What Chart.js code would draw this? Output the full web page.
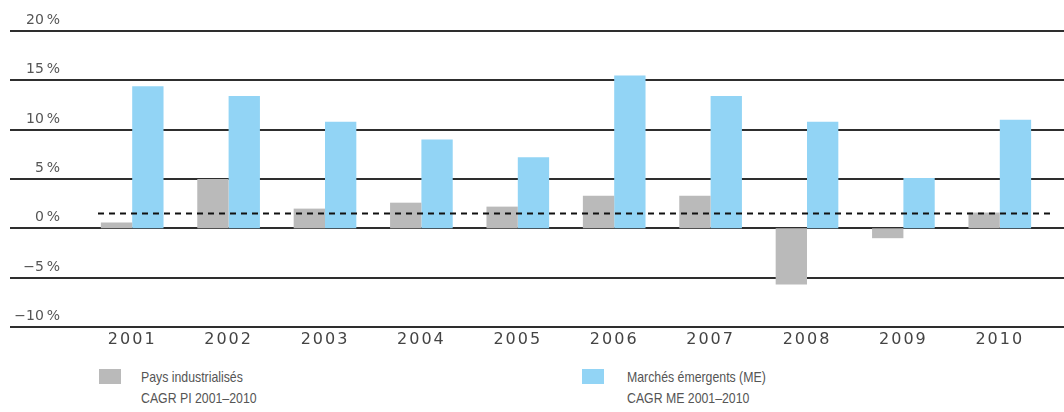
<!DOCTYPE html>
<html>
<head>
<meta charset="utf-8">
<script src="https://cdn.jsdelivr.net/npm/chart.js@4"></script>
<style>
  body { margin: 0; background: #fff; width: 1064px; height: 412px; position: relative; overflow: hidden; }
  #wrap { position: absolute; left: 0; top: 0; width: 1064px; height: 360px; }
  .leg { position: absolute; font-family: "Liberation Sans", Arial, sans-serif; font-size: 15px; color: #555; line-height: 21px;
         transform: scaleX(0.82); transform-origin: left top; white-space: nowrap; }
  .sw { position: absolute; width: 22px; height: 15px; }
</style>
</head>
<body>
<div id="wrap"><canvas id="chart"></canvas></div>

<div class="sw" style="left:99px; top:369px; background:#bababa;"></div>
<div class="leg" style="left:141px; top:366px;">Pays industrialisés<br>CAGR PI 2001–2010</div>
<div class="sw" style="left:582px; top:369px; background:#92d4f5;"></div>
<div class="leg" style="left:627px; top:366px;">Marchés émergents (ME)<br>CAGR ME 2001–2010</div>

<script>
// --- DATA ---
const years = ['2001', '2002', '2003', '2004', '2005', '2006', '2007', '2008', '2009', '2010'];
const industrialized = [0.6, 5.0, 2.0, 2.6, 2.2, 3.3, 3.3, -5.7, -1.0, 1.6];
const emerging = [14.4, 13.4, 10.8, 9.0, 7.2, 15.5, 13.4, 10.8, 5.1, 11.0];
const cagrPI = 1.5;
const yTicks = [20, 15, 10, 5, 0, -5, -10];
const yTickLabels = ['20\u202F%', '15\u202F%', '10\u202F%', '5\u202F%', '0\u202F%', '−5\u202F%', '−10\u202F%'];

const GRAY = '#bababa', BLUE = '#92d4f5';

// spaced-out lettering like the print original
const spacing = {
  id: 'spacing',
  beforeDraw(chart) { chart.ctx.letterSpacing = '2px'; }
};

// full-width horizontal rules with their labels sitting on top
const rules = {
  id: 'rules',
  beforeDatasetsDraw(chart) {
    const ctx = chart.ctx, y = chart.scales.y;
    ctx.save();
    ctx.strokeStyle = '#2e2e2e';
    ctx.lineWidth = 2;
    ctx.fillStyle = '#555';
    ctx.font = '14px "DejaVu Sans"';
    ctx.letterSpacing = '1px';
    ctx.textAlign = 'right';
    ctx.textBaseline = 'alphabetic';
    yTicks.forEach((v, i) => {
      let py = Math.round(y.getPixelForValue(v));
      ctx.beginPath();
      ctx.moveTo(10, py);
      ctx.lineTo(chart.width, py);
      ctx.stroke();
      ctx.fillText(yTickLabels[i], 60, py - 7);
    });
    ctx.restore();
  }
};

// dashed CAGR line over the bars
const cagrLine = {
  id: 'cagrLine',
  afterDatasetsDraw(chart) {
    const ctx = chart.ctx;
    let py = chart.scales.y.getPixelForValue(cagrPI);
    ctx.save();
    ctx.strokeStyle = '#111';
    ctx.lineWidth = 2;
    ctx.setLineDash([6, 5]);
    ctx.beginPath();
    ctx.moveTo(98, py);
    ctx.lineTo(1050, py);
    ctx.stroke();
    ctx.restore();
  }
};

new Chart(document.getElementById('chart'), {
  type: 'bar',
  data: {
    labels: years,
    datasets: [
      { label: 'Pays industrialisés', data: industrialized, backgroundColor: GRAY },
      { label: 'Marchés émergents (ME)', data: emerging, backgroundColor: BLUE }
    ]
  },
  options: {
    responsive: true,
    maintainAspectRatio: false,
    animation: false,
    layout: { padding: { left: 84, right: 16, top: 31, bottom: 3 } },
    categoryPercentage: 0.65,
    barPercentage: 1.0,
    plugins: { legend: { display: false }, tooltip: { enabled: false } },
    scales: {
      y: { display: false, min: -10, max: 20 },
      x: {
        grid: { display: false, drawTicks: false },
        border: { display: false },
        ticks: { color: '#444', font: { family: 'DejaVu Sans', size: 16 }, padding: 3, maxRotation: 0 },
        afterFit(s) { s.height = 30; }
      }
    }
  },
  plugins: [spacing, rules, cagrLine]
});
</script>
</body>
</html>
